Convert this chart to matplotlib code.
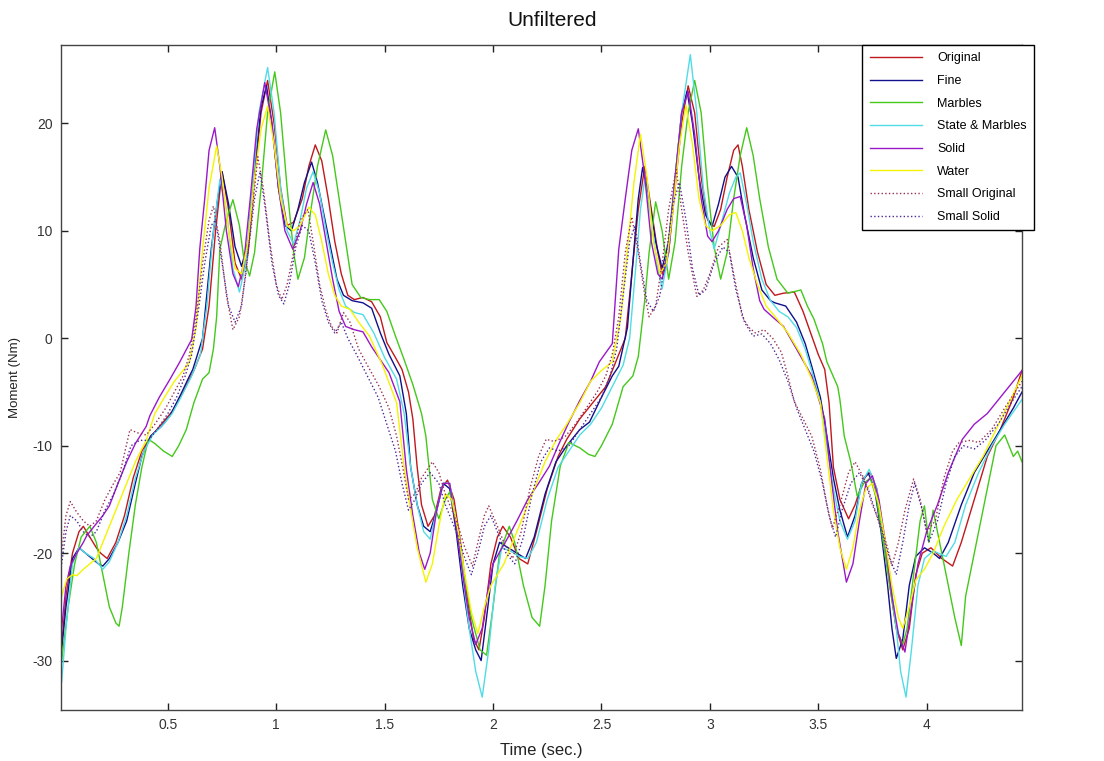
import matplotlib
matplotlib.use("Agg")
import matplotlib.pyplot as plt

plt.rcParams['font.family'] = ['Liberation Sans', 'DejaVu Sans']
plt.rcParams['axes.unicode_minus'] = False

# values (time in s, moment in Nm)
original_t = [0.01, 0.03, 0.06, 0.09, 0.11, 0.14, 0.17, 0.19, 0.22, 0.26, 0.30, 0.34, 0.38, 0.42, 0.47, 0.52, 0.57, 0.62, 0.66, 0.69,
              0.72, 0.75, 0.78, 0.81, 0.84, 0.87, 0.90, 0.93, 0.96, 0.99, 1.02, 1.05, 1.08, 1.12, 1.15, 1.18, 1.21, 1.24, 1.27, 1.30,
              1.33, 1.36, 1.40, 1.44, 1.48, 1.51, 1.55, 1.58, 1.61, 1.63, 1.65, 1.67, 1.70, 1.73, 1.76, 1.79, 1.82, 1.85, 1.88, 1.91,
              1.935, 1.96, 1.99, 2.02, 2.045, 2.08, 2.12, 2.16, 2.20, 2.25, 2.30, 2.34, 2.40, 2.46, 2.52, 2.57, 2.61, 2.64, 2.67, 2.70,
              2.73, 2.76, 2.78, 2.81, 2.84, 2.87, 2.90, 2.93, 2.96, 2.99, 3.02, 3.05, 3.08, 3.11, 3.13, 3.15, 3.18, 3.22, 3.26, 3.30,
              3.34, 3.39, 3.43, 3.47, 3.50, 3.53, 3.55, 3.57, 3.60, 3.64, 3.67, 3.71, 3.74, 3.77, 3.80, 3.83, 3.86, 3.89, 3.92, 3.95,
              3.98, 4.02, 4.07, 4.12, 4.16, 4.22, 4.28, 4.34, 4.40, 4.44]
original_v = [-28.5, -24, -20, -18, -17.5, -18.5, -19.5, -20, -20.5, -19, -16.5, -13, -10.5, -9.2, -8, -6.8, -5, -3, -1, 3,
              10, 15.5, 12, 7, 5.5, 8, 15, 21, 24, 20, 14, 10.5, 10.8, 13, 16, 18, 16.5, 13, 9, 6,
              4, 3.6, 3.8, 3.4, 2, -0.4, -1.8, -2.9, -5, -7.5, -12, -15.5, -17.5, -16.5, -14, -13.2, -15, -19, -24, -28,
              -29, -26, -21, -18.5, -17.5, -18.5, -20.5, -21, -18, -14, -11, -9.4, -7.5, -6, -4.5, -2, 0, 6, 12, 16,
              12, 8, 6, 8, 14, 20, 23.5, 21, 15, 11, 10.4, 12, 15, 17.5, 18, 16, 12, 8, 5, 4,
              4.2, 4.3, 2.5, 0.2, -1.5, -2.9, -6, -12, -15, -16.8, -15.5, -13, -12.5, -14, -18, -23, -27, -29, -27, -22,
              -20, -19.5, -20.5, -21.2, -19, -15, -11, -8.5, -5.5, -3]

fine_t = [0.01, 0.03, 0.06, 0.09, 0.12, 0.15, 0.18, 0.20, 0.23, 0.27, 0.31, 0.35, 0.38, 0.42, 0.47, 0.51, 0.56, 0.60, 0.615, 0.66,
          0.70, 0.73, 0.75, 0.78, 0.81, 0.84, 0.87, 0.90, 0.93, 0.955, 0.98, 1.01, 1.04, 1.07, 1.10, 1.13, 1.163, 1.19, 1.22, 1.25,
          1.28, 1.31, 1.35, 1.40, 1.44, 1.48, 1.52, 1.57, 1.60, 1.62, 1.65, 1.68, 1.71, 1.74, 1.77, 1.80, 1.83, 1.86, 1.89, 1.92,
          1.945, 1.97, 2.00, 2.03, 2.07, 2.11, 2.15, 2.19, 2.24, 2.29, 2.34, 2.40, 2.445, 2.50, 2.55, 2.58, 2.62, 2.65, 2.67, 2.69,
          2.72, 2.75, 2.78, 2.81, 2.84, 2.87, 2.895, 2.92, 2.95, 2.98, 3.01, 3.04, 3.07, 3.10, 3.13, 3.16, 3.20, 3.24, 3.28, 3.30,
          3.35, 3.40, 3.44, 3.47, 3.51, 3.54, 3.57, 3.60, 3.635, 3.67, 3.70, 3.73, 3.76, 3.79, 3.82, 3.84, 3.86, 3.89, 3.92, 3.95,
          3.99, 4.03, 4.06, 4.10, 4.16, 4.22, 4.28, 4.34, 4.40, 4.44]
fine_v = [-29, -25, -20.5, -19.5, -20, -20.5, -21, -21.2, -20.5, -19, -17, -13.5, -11, -9.1, -8.2, -7.2, -5.2, -3.5, -2.9, 0,
          8.3, 13, 15.5, 12.5, 8.5, 6.7, 9, 16, 21.5, 23.5, 20, 14, 10.5, 10, 12, 14.5, 16.4, 14.5, 11.5, 8.5,
          5.5, 4, 3.5, 3.3, 2.8, 0.5, -1.5, -3.5, -7, -12, -15.5, -17.5, -18, -16, -13.5, -14, -18, -23, -27, -29,
          -30, -26, -21, -19, -19.5, -20, -20.5, -18.5, -14.5, -11.5, -10, -8.5, -7.8, -5.5, -3.5, -2.6, 1, 8.3, 13, 15.9,
          13, 9, 6.5, 9, 15, 21, 23, 20, 15, 11.5, 10.4, 12.5, 15, 16, 15, 11.5, 7.5, 4.5, 3.5, 3.3,
          3, 1.5, -0.5, -2.6, -5.5, -9.1, -13, -16, -18.5, -16.5, -13.5, -12.5, -14, -18, -23, -27, -29.8, -28, -23, -20.3,
          -19.5, -20, -20.5, -19, -15.5, -12.5, -10.5, -8.5, -6.5, -5]

marbles_t = [0.01, 0.04, 0.07, 0.10, 0.14, 0.17, 0.20, 0.23, 0.26, 0.275, 0.29, 0.32, 0.35, 0.38, 0.41, 0.44, 0.48, 0.52, 0.55, 0.585,
             0.62, 0.66, 0.69, 0.71, 0.725, 0.74, 0.77, 0.80, 0.83, 0.85, 0.877, 0.90, 0.93, 0.96, 0.993, 1.02, 1.05, 1.08, 1.10, 1.13,
             1.16, 1.19, 1.228, 1.26, 1.29, 1.32, 1.35, 1.39, 1.43, 1.475, 1.51, 1.55, 1.59, 1.63, 1.67, 1.69, 1.72, 1.75, 1.78, 1.80,
             1.83, 1.86, 1.90, 1.94, 1.97, 2.00, 2.03, 2.075, 2.10, 2.14, 2.18, 2.215, 2.24, 2.27, 2.31, 2.35, 2.40, 2.44, 2.47, 2.50,
             2.55, 2.60, 2.645, 2.67, 2.70, 2.72, 2.75, 2.78, 2.81, 2.84, 2.87, 2.90, 2.93, 2.96, 2.99, 3.02, 3.05, 3.08, 3.11, 3.14,
             3.17, 3.20, 3.23, 3.27, 3.31, 3.36, 3.42, 3.45, 3.48, 3.52, 3.54, 3.59, 3.60, 3.62, 3.65, 3.68, 3.71, 3.74, 3.77, 3.80,
             3.83, 3.86, 3.89, 3.91, 3.94, 3.97, 3.99, 4.01, 4.03, 4.06, 4.10, 4.13, 4.16, 4.18, 4.21, 4.24, 4.28, 4.32, 4.36, 4.40,
             4.42, 4.44]
marbles_v = [-30, -25, -21, -18.5, -17.5, -19, -22, -25, -26.5, -26.8, -25, -20, -15.5, -12, -9.4, -9.8, -10.5, -11, -10, -8.5,
             -6, -3.8, -3.2, -1, 2, 8.3, 11, 12.9, 10.5, 7.5, 5.8, 8, 14, 21, 24.8, 21, 14, 8, 5.5, 7.5,
             12, 16, 19.4, 17, 13, 9, 5, 3.8, 3.6, 3.6, 2.5, 0.2, -2, -4.3, -7, -9.1, -15, -16.8, -15, -14.3,
             -17, -21, -26, -29, -29.5, -25, -20, -17.5, -19, -23, -26, -26.8, -23, -17, -11.9, -9.7, -10.2, -10.8, -11, -10,
             -8, -4.5, -3.5, -1.7, 3.6, 8, 12.7, 10, 5.5, 9, 16, 21, 24, 21, 14, 8.5, 5.5, 8, 13, 17,
             19.6, 17, 13, 8.5, 5.5, 4.2, 4.5, 3, 1.8, -0.5, -2.2, -4.5, -5.7, -9.1, -11.5, -14.7, -13.5, -13, -15, -19,
             -23, -27, -28.5, -27, -22, -17, -15.6, -19, -16, -19, -23, -26, -28.6, -24, -21, -18, -14, -10, -9, -11,
             -10.5, -11.5]

state_t = [0.01, 0.03, 0.06, 0.09, 0.12, 0.16, 0.20, 0.23, 0.27, 0.31, 0.35, 0.39, 0.43, 0.48, 0.52, 0.56, 0.61, 0.65, 0.68, 0.71,
           0.74, 0.77, 0.80, 0.83, 0.86, 0.89, 0.92, 0.96, 0.99, 1.02, 1.05, 1.08, 1.11, 1.14, 1.17, 1.20, 1.23, 1.26, 1.29, 1.32,
           1.36, 1.40, 1.45, 1.50, 1.555, 1.59, 1.62, 1.65, 1.68, 1.71, 1.74, 1.77, 1.80, 1.83, 1.86, 1.89, 1.92, 1.95, 1.98, 2.01,
           2.04, 2.08, 2.12, 2.16, 2.20, 2.25, 2.30, 2.35, 2.40, 2.45, 2.50, 2.55, 2.60, 2.63, 2.66, 2.68, 2.70, 2.73, 2.76, 2.78,
           2.81, 2.84, 2.87, 2.91, 2.94, 2.97, 3.00, 3.02, 3.05, 3.09, 3.12, 3.14, 3.17, 3.20, 3.24, 3.28, 3.32, 3.36, 3.40, 3.44,
           3.47, 3.51, 3.54, 3.57, 3.60, 3.635, 3.67, 3.70, 3.735, 3.77, 3.80, 3.83, 3.86, 3.88, 3.905, 3.93, 3.96, 3.99, 4.03, 4.09,
           4.13, 4.18, 4.24, 4.30, 4.36, 4.44]
state_v = [-32, -27, -21, -19.5, -20, -20.5, -21.5, -20.8, -19, -16.5, -13, -10.5, -9, -8, -7, -5.5, -3.5, -1.5, 3, 10,
           14.8, 12, 6.5, 4.3, 7, 14, 21, 25.2, 21, 14, 10, 8.8, 11, 14, 15.5, 13.5, 10, 7, 4.5, 3,
           2.4, 2.2, 0.5, -1.8, -3.8, -7, -12, -15.5, -18, -18.7, -16, -13.5, -13.5, -17, -22, -27, -31, -33.4, -29, -23,
           -19.5, -19.8, -20.3, -20.5, -19, -15, -12, -10.5, -9, -8, -6.5, -4.5, -2.5, 0, 7, 12, 14.8, 11, 6.5, 4.6,
           8, 15, 21, 26.4, 21, 14, 10, 8.3, 10.5, 13.5, 15, 15.4, 12.5, 9, 5.5, 3.5, 2.5, 2, 1, -1,
           -3, -6, -10, -14, -17, -18.7, -17, -13.5, -12.2, -14, -18, -22, -27, -31, -33.4, -29, -23, -20.5, -19.8, -20.3,
           -19, -15.5, -12.5, -10, -8, -5.7]

solid_t = [0.01, 0.03, 0.05, 0.08, 0.11, 0.125, 0.16, 0.20, 0.23, 0.27, 0.31, 0.35, 0.40, 0.417, 0.46, 0.51, 0.555, 0.61, 0.63, 0.647,
           0.67, 0.69, 0.716, 0.74, 0.77, 0.80, 0.825, 0.85, 0.88, 0.91, 0.947, 0.98, 1.01, 1.04, 1.076, 1.11, 1.14, 1.17, 1.20, 1.23,
           1.26, 1.29, 1.32, 1.36, 1.40, 1.44, 1.48, 1.52, 1.57, 1.60, 1.63, 1.66, 1.685, 1.71, 1.74, 1.77, 1.80, 1.83, 1.86, 1.89,
           1.92, 1.95, 1.98, 2.00, 2.03, 2.07, 2.11, 2.16, 2.21, 2.26, 2.30, 2.35, 2.40, 2.45, 2.49, 2.55, 2.58, 2.61, 2.64, 2.67,
           2.70, 2.73, 2.76, 2.78, 2.81, 2.84, 2.87, 2.90, 2.93, 2.96, 2.99, 3.01, 3.04, 3.08, 3.11, 3.14, 3.17, 3.20, 3.23, 3.25,
           3.30, 3.34, 3.40, 3.47, 3.53, 3.56, 3.59, 3.63, 3.66, 3.69, 3.72, 3.75, 3.78, 3.81, 3.84, 3.87, 3.90, 3.93, 3.96, 4.00,
           4.05, 4.10, 4.165, 4.22, 4.28, 4.34, 4.40, 4.44]
solid_v = [-27, -23, -21.2, -20, -19, -18.4, -17.5, -16.5, -15.6, -13.5, -11.5, -9.8, -8.2, -7.2, -5.5, -3.8, -2.2, -0.1, 3, 8.3,
           13, 17.5, 19.6, 16, 10, 6, 4.8, 7, 13, 19.5, 23.8, 20, 14, 10, 8.3, 10, 12.5, 14.5, 12.5, 9,
           5.5, 2.5, 1.1, 0.8, 0.6, -0.8, -2, -3.2, -5.9, -12.2, -16.5, -20, -21.5, -20, -16, -13.5, -13.5, -17.5, -22, -26,
           -28.5, -27, -23, -21, -19.9, -18.5, -17, -15, -13.5, -11.9, -10, -7.8, -5.8, -4, -2.2, -0.5, 8.3, 13, 17.5, 19.5,
           15, 9, 6, 5.5, 8, 15, 21, 23, 19, 13, 9.5, 9, 10, 12, 13, 13.2, 10.5, 6.5, 3.5, 2.7,
           1.8, 1.1, -1, -3.5, -7.5, -13, -18, -22.7, -21, -17, -13.5, -12.8, -15, -19, -24, -27.5, -29.2, -25, -21, -18,
           -15.5, -12.5, -9.4, -8, -7, -5.5, -4, -3]

water_t = [0.01, 0.034, 0.06, 0.08, 0.11, 0.14, 0.17, 0.21, 0.25, 0.30, 0.35, 0.40, 0.44, 0.478, 0.53, 0.57, 0.60, 0.63, 0.66, 0.69,
           0.725, 0.75, 0.78, 0.81, 0.84, 0.87, 0.90, 0.93, 0.96, 0.99, 1.02, 1.05, 1.08, 1.11, 1.15, 1.18, 1.21, 1.24, 1.27, 1.30,
           1.34, 1.38, 1.43, 1.49, 1.555, 1.59, 1.62, 1.65, 1.69, 1.72, 1.75, 1.78, 1.81, 1.84, 1.87, 1.90, 1.93, 1.96, 1.99, 2.02,
           2.05, 2.09, 2.14, 2.19, 2.24, 2.29, 2.34, 2.40, 2.45, 2.50, 2.55, 2.59, 2.62, 2.65, 2.68, 2.71, 2.74, 2.77, 2.80, 2.83,
           2.86, 2.89, 2.92, 2.95, 2.98, 3.01, 3.05, 3.09, 3.12, 3.15, 3.18, 3.22, 3.26, 3.31, 3.36, 3.42, 3.47, 3.51, 3.54, 3.57,
           3.60, 3.63, 3.66, 3.69, 3.72, 3.75, 3.78, 3.81, 3.84, 3.87, 3.89, 3.92, 3.95, 3.99, 4.03, 4.08, 4.14, 4.20, 4.26, 4.32,
           4.38, 4.44]
water_v = [-24, -22.4, -22, -22.1, -21.5, -21, -20.5, -18.5, -16.5, -14, -11.5, -9.5, -7, -5.7, -4, -3, -2.2, 1, 8.3, 14,
           17.9, 15, 10, 6.5, 6, 9, 15, 19.5, 21.6, 18, 13, 10.5, 10, 10.5, 12.2, 11.5, 9, 6, 4, 3,
           2.7, 1.5, 0.2, -2.5, -6, -12, -16, -19.5, -22.7, -21, -17.5, -14.5, -15, -18, -22, -25.5, -27.5, -25, -23, -22,
           -21, -19, -16.5, -14, -11.5, -9.5, -8, -6, -4, -3, -2.2, 2, 8.3, 14.5, 19, 15, 9, 6, 7, 12,
           18, 21.7, 18, 13, 10.5, 10, 10.5, 11.5, 11.7, 10, 7.5, 5, 3, 1.8, 0.5, -1.5, -3.8, -6, -11, -16,
           -19.5, -21.5, -19.5, -16, -14, -13.5, -15.5, -19, -23, -26, -27, -25, -22.5, -21.5, -20, -17.5, -15, -13, -11, -8.5,
           -6, -3.5]

small_orig_t = [0.01, 0.03, 0.05, 0.08, 0.11, 0.14, 0.17, 0.21, 0.25, 0.28, 0.325, 0.36, 0.40, 0.44, 0.49, 0.53, 0.57, 0.60, 0.63, 0.66,
                0.69, 0.71, 0.74, 0.77, 0.80, 0.83, 0.86, 0.89, 0.915, 0.94, 0.97, 1.00, 1.025, 1.05, 1.08, 1.11, 1.146, 1.17, 1.20, 1.23,
                1.255, 1.28, 1.31, 1.34, 1.38, 1.42, 1.475, 1.52, 1.555, 1.585, 1.61, 1.64, 1.67, 1.72, 1.75, 1.78, 1.81, 1.84, 1.87, 1.905,
                1.93, 1.96, 1.98, 2.01, 2.05, 2.09, 2.13, 2.17, 2.21, 2.245, 2.28, 2.33, 2.38, 2.43, 2.48, 2.52, 2.55, 2.58, 2.61, 2.64,
                2.67, 2.70, 2.72, 2.75, 2.78, 2.81, 2.845, 2.87, 2.90, 2.94, 2.97, 3.00, 3.04, 3.08, 3.11, 3.15, 3.18, 3.21, 3.25, 3.29,
                3.33, 3.36, 3.39, 3.43, 3.47, 3.51, 3.54, 3.565, 3.60, 3.64, 3.67, 3.71, 3.75, 3.79, 3.82, 3.84, 3.87, 3.90, 3.94, 3.97,
                4.00, 4.04, 4.08, 4.12, 4.15, 4.20, 4.24, 4.30, 4.36, 4.44]
small_orig_v = [-20, -16.5, -15.2, -16.2, -17, -17.5, -17, -15, -13.5, -12.5, -8.5, -8.8, -9, -8, -6.5, -5, -3.5, -1.5, 2, 7,
                11, 12.3, 9, 4, 0.8, 2, 6, 12, 16.9, 14, 9, 5, 3.6, 5, 8, 11, 12, 9, 5, 2.5,
                1.1, 0.5, 2.4, 1.5, -1, -2.5, -4.5, -6.5, -9.1, -12.2, -15, -14.5, -13, -11.5, -12.5, -14.5, -16, -17.5, -19.5, -21.2,
                -19, -16.5, -15.6, -17, -19, -20.5, -18, -14, -11, -9.4, -9.6, -9.2, -8, -6.5, -5, -3.5, -1.5, 2, 8, 11.3,
                8, 4, 2, 3, 7, 12, 15.7, 12, 8, 3.9, 4.5, 6, 8.5, 9.2, 6, 2, 1, 0.5, 0.8, 0,
                -1.3, -3.5, -5.9, -7.5, -9.1, -12.2, -15.5, -17.7, -15.5, -12.5, -11.5, -13, -15.5, -17.5, -19.5, -21.2, -19, -16, -13.1, -15,
                -18, -17, -13, -10.5, -9.7, -9.5, -9.7, -8.5, -6.5, -4]

small_solid_t = [0.01, 0.03, 0.05, 0.08, 0.11, 0.14, 0.17, 0.21, 0.25, 0.29, 0.33, 0.37, 0.41, 0.45, 0.50, 0.54, 0.58, 0.61, 0.64, 0.67,
                 0.70, 0.72, 0.75, 0.78, 0.81, 0.84, 0.87, 0.90, 0.925, 0.95, 0.98, 1.01, 1.035, 1.06, 1.09, 1.12, 1.15, 1.18, 1.21, 1.24,
                 1.27, 1.30, 1.33, 1.37, 1.42, 1.47, 1.51, 1.55, 1.58, 1.61, 1.64, 1.67, 1.71, 1.75, 1.78, 1.81, 1.84, 1.87, 1.90, 1.93,
                 1.96, 1.99, 2.02, 2.06, 2.10, 2.14, 2.18, 2.22, 2.26, 2.30, 2.35, 2.40, 2.45, 2.50, 2.54, 2.57, 2.60, 2.63, 2.655, 2.68,
                 2.71, 2.74, 2.77, 2.80, 2.83, 2.86, 2.89, 2.92, 2.95, 2.98, 3.02, 3.06, 3.09, 3.12, 3.16, 3.20, 3.24, 3.28, 3.32, 3.36,
                 3.40, 3.44, 3.48, 3.52, 3.55, 3.58, 3.61, 3.65, 3.69, 3.73, 3.77, 3.80, 3.83, 3.86, 3.89, 3.92, 3.945, 3.98, 4.01, 4.05,
                 4.09, 4.13, 4.17, 4.22, 4.27, 4.33, 4.39, 4.44]
small_solid_v = [-21, -18, -16.5, -17, -18, -18.5, -18, -16, -14.5, -12.5, -10, -9.5, -9.5, -8.5, -7, -5.5, -3.5, -1.5, 2.5, 7,
                 10.5, 11, 7, 3, 1.5, 3, 8, 13, 15.5, 12, 7, 4, 3.2, 5, 8.5, 10.5, 10, 7, 3.5, 1.5,
                 0.5, 1.5, 0, -1.5, -3.5, -5.5, -8, -10.5, -13.5, -16, -15, -13.5, -12.5, -13.5, -15.5, -17, -18.5, -20.5, -22, -20,
                 -17.5, -16.5, -18, -20, -21, -18.5, -14.5, -11.5, -10.2, -10.5, -10, -8.5, -7, -5.5, -3.5, -1, 4, 9, 10.5, 7,
                 3.5, 2.5, 4, 8, 12.5, 14.5, 11, 6.5, 4, 4.5, 7, 8.5, 8, 4.5, 1.5, 0.2, 0.4, -0.5, -2, -4,
                 -6.5, -8.5, -10.5, -13.5, -16.5, -18.5, -16, -13.5, -12.5, -14, -16.5, -18.5, -20.5, -22, -19, -15.5, -13.5, -16, -19, -17,
                 -13.5, -11, -10, -10.3, -9.5, -8, -6, -4.5]

labels = ['Original', 'Fine', 'Marbles', 'State & Marbles', 'Solid', 'Water', 'Small Original', 'Small Solid']
colors = ['#c0181c', '#10108c', '#44c81a', '#50dce6', '#9a18c8', '#f4f400', '#9a3050', '#4a2898']
styles = ['-', '-', '-', '-', '-', '-', ':', ':']
series = [(original_t, original_v), (fine_t, fine_v), (marbles_t, marbles_v), (state_t, state_v),
          (solid_t, solid_v), (water_t, water_v), (small_orig_t, small_orig_v), (small_solid_t, small_solid_v)]

W, H = 1104, 761
fig = plt.figure(figsize=(W / 100, H / 100), dpi=100)
ax = fig.add_axes([61 / W, 1 - 710 / H, (1022 - 61) / W, (710 - 45) / H])

for (t, v), lab, c, ls in zip(series, labels, colors, styles):
    ax.plot(t, v, color=c, linestyle=ls, linewidth=1.0, label=lab)

ax.set_xlim(0.007, 4.44)
ax.set_ylim(-34.6, 27.3)
ax.set_xticks([0.5, 1, 1.5, 2, 2.5, 3, 3.5, 4])
ax.set_xticklabels(['0.5', '1', '1.5', '2', '2.5', '3', '3.5', '4'])
ax.set_yticks([-30, -20, -10, 0, 10, 20])
ax.tick_params(direction='in', length=5, width=1, top=True, right=True, labelsize=10,
               colors='#222222', labelcolor='#333333', pad=6)
for s in ax.spines.values():
    s.set_color('#444444')
    s.set_linewidth(1.0)

ax.set_xlabel('Time (sec.)', fontsize=12, color='#222222', labelpad=8)
ax.set_ylabel('Moment (Nm)', fontsize=9.5, color='#222222', labelpad=8)
fig.text(0.5, 1 - 20 / H, 'Unfiltered', ha='center', va='center', fontsize=15, color='#111111')

fig.legend(loc='upper left', bbox_to_anchor=(862 / W, 1 - 45 / H), borderaxespad=0,
           fancybox=False, edgecolor='black', framealpha=1, fontsize=9,
           handlelength=4.2, handletextpad=1.2, labelspacing=0.85, borderpad=0.6)

fig.savefig('out.png', dpi=100)
